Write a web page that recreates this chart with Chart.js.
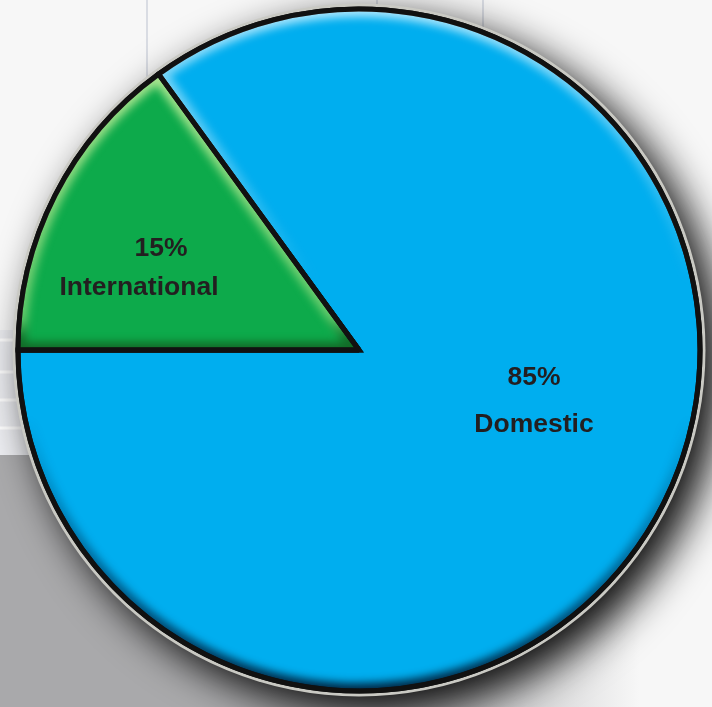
<!DOCTYPE html>
<html>
<head>
<meta charset="utf-8">
<script src="https://cdn.jsdelivr.net/npm/chart.js@4/dist/chart.umd.min.js"></script>
<style>
  html, body { margin: 0; padding: 0; background: #f6f6f6; }
  canvas { display: block; }
</style>
</head>
<body>
<canvas id="chartPie" width="712" height="707"></canvas>
<script>
// Data
const categories = ["Domestic", "International"];
const shares = [85, 15];
const percentLabels = ["85%", "15%"];

const sliceColors = ["#00aeef", "#0daa4b"];

// label lines, offset in px from the pie centre (one entry per slice)
const labelLines = [
  [{ dx: 175, dy: 28 }, { dx: 175, dy: 75 }],
  [{ dx: -198, dy: -101 }, { dx: -220, dy: -62 }],
];

function wedgePath(ctx, arc) {
  const { x, y, startAngle, endAngle, outerRadius } = arc.getProps(
    ["x", "y", "startAngle", "endAngle", "outerRadius"], true
  );
  ctx.beginPath();
  ctx.moveTo(x, y);
  ctx.arc(x, y, outerRadius, startAngle, endAngle);
  ctx.closePath();
}

// Background: white page, grey desk bottom-left, faint grid lines, drop shadow
const backdrop = {
  id: "backdrop",
  beforeDraw(chart) {
    const { ctx, width, height } = chart;
    ctx.save();
    ctx.fillStyle = "#f7f7f7";
    ctx.fillRect(0, 0, width, height);
    ctx.fillStyle = "#ecedf1";
    ctx.fillRect(0, 330, 40, 125);
    const desk = ctx.createLinearGradient(380, 0, 640, 0);
    desk.addColorStop(0, "#a9a9ab");
    desk.addColorStop(1, "#f7f7f7");
    ctx.fillStyle = desk;
    ctx.fillRect(0, 455, width, height - 455);
    ctx.strokeStyle = "#d9dce3";
    ctx.lineWidth = 2;
    [147, 377, 483].forEach((gx) => {
      ctx.beginPath();
      ctx.moveTo(gx, 0);
      ctx.lineTo(gx, 330);
      ctx.stroke();
    });
    ctx.strokeStyle = "#ffffff";
    ctx.lineWidth = 3;
    [340, 372, 400, 428].forEach((gy) => {
      ctx.beginPath();
      ctx.moveTo(0, gy);
      ctx.lineTo(40, gy);
      ctx.stroke();
    });
    ctx.restore();
  },
  beforeDatasetsDraw(chart) {
    const arc = chart.getDatasetMeta(0).data[0];
    const { x, y, outerRadius } = arc.getProps(["x", "y", "outerRadius"], true);
    const { ctx } = chart;
    ctx.save();
    ctx.shadowColor = "rgba(0, 0, 0, 0.95)";
    ctx.shadowBlur = 40;
    ctx.shadowOffsetX = 16;
    ctx.shadowOffsetY = 15;
    ctx.fillStyle = "#c9c9c3";
    ctx.beginPath();
    ctx.arc(x, y, outerRadius + 5.5, 0, Math.PI * 2);
    ctx.fill();
    ctx.restore();
  },
  afterDatasetsDraw(chart) {
    const { ctx } = chart;
    const arcs = chart.getDatasetMeta(0).data;
    const { x, y, outerRadius: r } = arcs[0].getProps(["x", "y", "outerRadius"], true);

    // soft bevel inside each slice
    const blueGrad = ctx.createLinearGradient(0, y - r, 0, y + r);
    blueGrad.addColorStop(0, "rgba(200, 240, 255, 0.85)");
    blueGrad.addColorStop(0.4, "rgba(150, 220, 250, 0)");
    blueGrad.addColorStop(0.6, "rgba(0, 40, 80, 0)");
    blueGrad.addColorStop(1, "rgba(0, 25, 50, 0.9)");

    const greenGrad = ctx.createLinearGradient(0, y - r * 0.8, 0, y);
    greenGrad.addColorStop(0, "rgba(185, 235, 150, 0.9)");
    greenGrad.addColorStop(0.88, "rgba(160, 225, 130, 0.6)");
    greenGrad.addColorStop(0.95, "rgba(20, 90, 30, 0.7)");
    greenGrad.addColorStop(1, "rgba(20, 90, 30, 0.8)");

    [blueGrad, greenGrad].forEach((grad, i) => {
      ctx.save();
      wedgePath(ctx, arcs[i]);
      ctx.clip();
      ctx.filter = "blur(4px)";
      ctx.strokeStyle = grad;
      ctx.lineWidth = 16;
      wedgePath(ctx, arcs[i]);
      ctx.stroke();
      ctx.restore();
    });

    ctx.save();
    ctx.strokeStyle = "#111111";
    ctx.lineWidth = 5;
    ctx.lineJoin = "miter";
    arcs.forEach((arc) => {
      wedgePath(ctx, arc);
      ctx.stroke();
    });

    // slice labels
    ctx.fillStyle = "#231f20";
    ctx.font = "bold 26.5px 'Liberation Sans', Arial, sans-serif";
    ctx.textAlign = "center";
    ctx.textBaseline = "middle";
    categories.forEach((name, i) => {
      const [l1, l2] = labelLines[i];
      ctx.fillText(percentLabels[i], x + l1.dx, y + l1.dy);
      ctx.fillText(name, x + l2.dx, y + l2.dy);
    });
    ctx.restore();
  },
};

const ctxPie = document.getElementById("chartPie").getContext("2d");

const dataCtxPie = {
  labels: categories,
  datasets: [
    {
      data: shares,
      backgroundColor: sliceColors,
      borderColor: "#111111",
      borderWidth: 5,
      hoverBorderWidth: 5,
      hoverOffset: 0,
      offset: 0,
    },
  ],
};

const optionsCtxPie = {
  responsive: false,
  animation: false,
  rotation: 324,
  layout: {
    padding: { left: 15.5, top: 6.5, right: 9.5, bottom: 13.5 },
  },
  events: [],
  plugins: {
    legend: { display: false },
    tooltip: { enabled: false },
  },
};

new Chart(ctxPie, {
  type: "pie",
  data: dataCtxPie,
  options: optionsCtxPie,
  plugins: [backdrop],
});
</script>
</body>
</html>
